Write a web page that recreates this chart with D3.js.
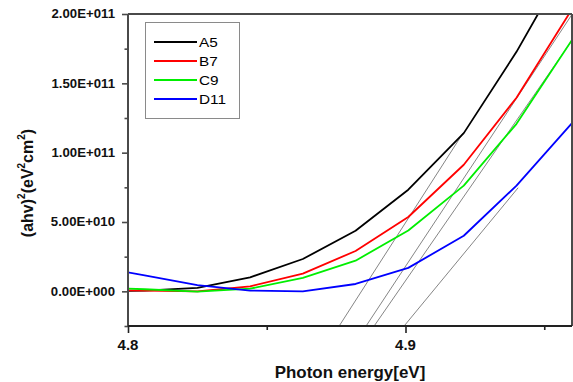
<!DOCTYPE html>
<html>
<head>
<meta charset="utf-8">
<script src="https://cdn.jsdelivr.net/npm/d3@7"></script>
<style>
  html, body { margin: 0; padding: 0; background: #fff; }
  svg { display: block; font-family: Arial, "Liberation Sans", sans-serif; }
</style>
</head>
<body>
<svg id="chart" width="573" height="382"></svg>
<script>
// ---- data ----
const energies = [4.788, 4.806, 4.825, 4.844, 4.863, 4.882, 4.901, 4.921, 4.940, 4.960];
const seriesNames = ["A5", "B7", "C9", "D11"];
const seriesColors = ["#000000", "#ff0000", "#00ee00", "#0000ff"];
// values in units of 1e10 (eV^2 cm^-2)
const valuesA5  = [0.00, 0.05, 0.25, 1.01, 2.33, 4.37, 7.33, 11.41, 17.27, 24.30];
const valuesB7  = [0.10, 0.05, 0.00, 0.36, 1.28, 2.91, 5.36, 9.13, 13.96, 20.35];
const valuesC9  = [0.30, 0.15, -0.02, 0.19, 0.97, 2.21, 4.39, 7.62, 12.08, 18.13];
const valuesD11 = [1.81, 1.15, 0.45, 0.05, 0.00, 0.53, 1.69, 4.01, 7.62, 12.13];
// linear extrapolation (tangent) lines, units of 1e10
const tanX1 = [4.8761, 4.8858, 4.8887, 4.8995];
const tanY1 = [-2.5, -2.5, -2.5, -2.5];
const tanX2 = [4.9208, 4.9601, 4.9601, 4.9406];
const tanY2 = [11.43, 20.0, 18.13, 7.47];
// axis ticks
const yMajorTicks = [0, 5e10, 10e10, 15e10, 20e10];
const yTickLabels = ["0.00E+000", "5.00E+010", "1.00E+011", "1.50E+011", "2.00E+011"];
const yMinorTicks = [-2.5e10, 2.5e10, 7.5e10, 12.5e10, 17.5e10];
const xMajorTicks = [4.8, 4.9];
const xTickLabels = ["4.8", "4.9"];
const xMinorTicks = [4.85, 4.95];

const allValues = [valuesA5, valuesB7, valuesC9, valuesD11];
const SCALE = 1e10;

// ---- layout ----
const L = 128, R = 572, T = 14, B = 326;
const x = d3.scaleLinear().domain([4.8, 4.96]).range([L, R]);
const y = d3.scaleLinear().domain([-2.5e10, 2e11]).range([B, T]);

const svg = d3.select("#chart");

svg.append("defs").append("clipPath").attr("id", "plotclip")
  .append("rect").attr("x", L).attr("y", T).attr("width", R - L).attr("height", B - T);

const axisColor = "#4a4a4a";

// tangent lines
const gTan = svg.append("g").attr("clip-path", "url(#plotclip)");
tanX1.forEach((_, i) => {
  gTan.append("line")
    .attr("x1", x(tanX1[i])).attr("y1", y(tanY1[i] * SCALE))
    .attr("x2", x(tanX2[i])).attr("y2", y(tanY2[i] * SCALE))
    .attr("stroke", "#333").attr("stroke-width", 0.6);
});

// series
const line = d3.line().x(d => x(d[0])).y(d => y(d[1] * SCALE));
const gSeries = svg.append("g").attr("clip-path", "url(#plotclip)");
allValues.forEach((vals, i) => {
  const pts = energies.map((e, j) => [e, vals[j]]);
  gSeries.append("path").datum(pts)
    .attr("d", line).attr("fill", "none")
    .attr("stroke", seriesColors[i]).attr("stroke-width", 1.8)
    .attr("stroke-linejoin", "round");
});

// frame (top + right)
svg.append("line").attr("x1", L).attr("x2", R).attr("y1", T).attr("y2", T)
  .attr("stroke", axisColor).attr("stroke-width", 2);
svg.append("line").attr("x1", R).attr("x2", R).attr("y1", T).attr("y2", B)
  .attr("stroke", axisColor).attr("stroke-width", 2);

// left axis
const yAxisMajor = d3.axisLeft(y).tickValues(yMajorTicks).tickSize(6).tickFormat("");
const yAxisMinor = d3.axisLeft(y).tickValues(yMinorTicks).tickSize(3.5).tickFormat("");
[yAxisMajor, yAxisMinor].forEach(ax => {
  const g = svg.append("g").attr("transform", `translate(${L},0)`).call(ax);
  g.select(".domain").attr("stroke", axisColor).attr("stroke-width", 2)
    .attr("d", `M0,${B}V${T}`);
  g.selectAll(".tick line").attr("stroke", axisColor).attr("stroke-width", 1.6);
});
// bottom axis
const xAxisMajor = d3.axisBottom(x).tickValues(xMajorTicks).tickSize(7).tickFormat("");
const xAxisMinor = d3.axisBottom(x).tickValues(xMinorTicks).tickSize(4).tickFormat("");
[xAxisMajor, xAxisMinor].forEach(ax => {
  const g = svg.append("g").attr("transform", `translate(0,${B})`).call(ax);
  g.select(".domain").attr("stroke", "#222").attr("stroke-width", 2)
    .attr("d", `M${L},0H${R}`);
  g.selectAll(".tick line").attr("stroke", "#222").attr("stroke-width", 1.6);
});

// y tick labels
yMajorTicks.forEach((v, i) => {
  svg.append("text")
    .attr("transform", `translate(115,${y(v) + 4.3}) scale(1.1,1)`)
    .attr("text-anchor", "end")
    .attr("font-size", 12).attr("font-weight", "bold").attr("fill", "#111")
    .text(yTickLabels[i]);
});
// x tick labels
xMajorTicks.forEach((v, i) => {
  svg.append("text")
    .attr("x", x(v)).attr("y", 350)
    .attr("text-anchor", "middle")
    .attr("font-size", 15).attr("font-weight", "bold").attr("fill", "#111")
    .text(xTickLabels[i]);
});

// x title
svg.append("text")
  .attr("transform", `translate(${(L + R) / 2},378) scale(1.06,1)`)
  .attr("text-anchor", "middle")
  .attr("font-size", 16).attr("font-weight", "bold").attr("fill", "#111")
  .text("Photon energy[eV]");

// y title
const yt = svg.append("text")
  .attr("transform", `translate(33,183) rotate(-90)`)
  .attr("text-anchor", "middle")
  .attr("font-size", 16).attr("font-weight", "bold").attr("fill", "#111");
const parts = [["(ahv)", false], ["2", true], ["(eV", false], ["2", true], ["cm", false], ["2", true], [")", false]];
let prevSup = false;
parts.forEach(([t, sup]) => {
  const ts = yt.append("tspan").text(t);
  if (sup) { ts.attr("font-size", 10).attr("dy", -8); }
  else if (prevSup) { ts.attr("dy", 8); }
  prevSup = sup;
});

// legend
const lg = svg.append("g");
lg.append("rect").attr("x", 145.5).attr("y", 22.5).attr("width", 94).attr("height", 96)
  .attr("fill", "#fff").attr("stroke", "#8a8a8a").attr("stroke-width", 1);
const legY = [42, 61, 80, 99];
seriesNames.forEach((n, i) => {
  lg.append("line").attr("x1", 154).attr("x2", 197).attr("y1", legY[i]).attr("y2", legY[i])
    .attr("stroke", seriesColors[i]).attr("stroke-width", 1.8);
  lg.append("text")
    .attr("transform", `translate(199,${legY[i] + 5}) scale(1.18,1)`)
    .attr("font-size", 13).attr("fill", "#000")
    .text(n);
});
</script>
</body>
</html>
